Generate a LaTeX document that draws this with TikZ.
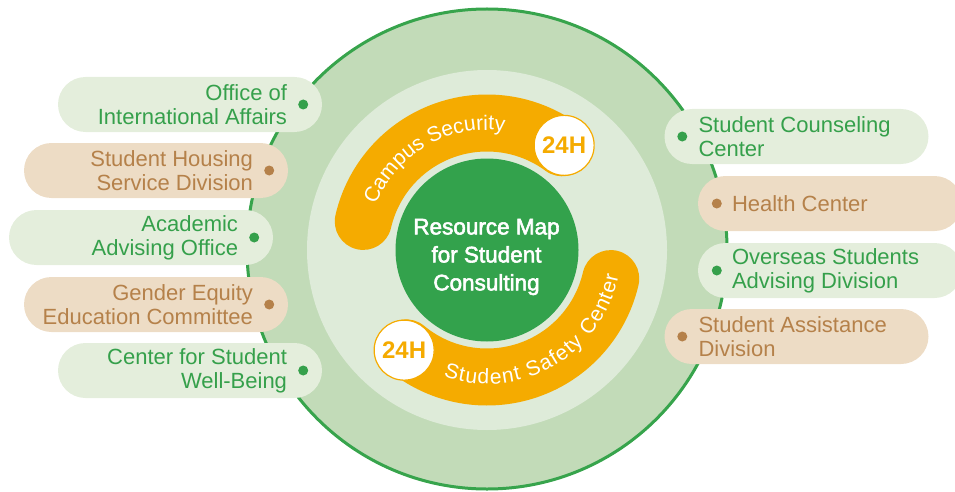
\documentclass[tikz,border=0pt]{standalone}
\usepackage{fontspec}
\setmainfont{Liberation Sans}
\newfontfamily\semib[FakeBold=2.5]{Liberation Sans}
\usetikzlibrary{shapes.misc,decorations.text}
\definecolor{ringout}{HTML}{C2DBB8}
\definecolor{ringline}{HTML}{37A44C}
\definecolor{ringin}{HTML}{DEEBD9}
\definecolor{core}{HTML}{33A24C}
\definecolor{band}{HTML}{F5AB00}
\definecolor{pillgreen}{HTML}{E4EEDC}
\definecolor{pillbeige}{HTML}{EDDCC5}
\definecolor{txtgreen}{HTML}{35A04B}
\definecolor{txtbrown}{HTML}{B5814A}
\newcommand{\arcfont}{\fontsize{21}{21}\selectfont}
\begin{document}
\begin{tikzpicture}[x=1pt,y=1pt,
  pillg/.style={rounded rectangle, fill=pillgreen, minimum width=264pt, minimum height=55pt, inner sep=0pt},
  pillb/.style={rounded rectangle, fill=pillbeige, minimum width=264pt, minimum height=55pt, inner sep=0pt},
  dotg/.style={circle, fill=txtgreen, minimum size=10pt, inner sep=0pt},
  dotb/.style={circle, fill=txtbrown, minimum size=10pt, inner sep=0pt},
  lblg/.style={text=txtgreen, font=\fontsize{22}{24}\selectfont, inner sep=0pt},
  lblb/.style={text=txtbrown, font=\fontsize{22}{24}\selectfont, inner sep=0pt},
  orangearc/.style={draw=band, line width=57pt, line cap=round},
  badge/.style={circle, fill=white, draw=band, line width=1.2pt, minimum size=60pt, inner sep=0pt, text=band, font=\bfseries\fontsize{24}{24}\selectfont}
]
\useasboundingbox (0,0) rectangle (955,491);
\coordinate (C) at (487,241);
% rings
\fill[ringout] (487,242) circle[radius=241];
\draw[ringline, line width=3pt] (487,242) circle[radius=240];
\fill[ringin] (C) circle[radius=180];
% orange arcs
\draw[orangearc] ([shift={(167:127)}]C) arc[start angle=167, end angle=53.6, radius=127];
\draw[orangearc] ([shift={(230.4:127)}]C) arc[start angle=230.4, end angle=347, radius=127];
% arc texts
\path[decorate, decoration={text along path, text={|\arcfont|Campus Security}, text align={fit to path}, text color=white}]
  ([shift={(158:120)}]C) arc[start angle=158, end angle=82, radius=120];
\path[decorate, decoration={text along path, text={|\arcfont|Student Safety Center}, text align={fit to path}, text color=white}]
  ([shift={(251:134)}]C) arc[start angle=251, end angle=349, radius=134];
% badges
\node[badge] (b1) at ([shift={(53.6:130)}]C) {24H};
\node[badge] (b2) at ([shift={(230.4:130)}]C) {24H};
% core
\node[circle, fill=core, minimum size=183pt, inner sep=0pt] (core) at (C) {};
\node[text=white, align=center, font=\semib\fontsize{22.5}{28}\selectfont] (title) at (486.5,234) {Resource Map\\for Student\\Consulting};
% left pills
\node[pillg] (L1) at (190,386.5) {};
\node[dotg] (L1d) at ([xshift=-19pt]L1.east) {};
\node[lblg, align=right, anchor=east] (L1t) at ([xshift=-35pt]L1.east) {Office of\\International Affairs};
\node[pillb] (L2) at (156,320.5) {};
\node[dotb] (L2d) at ([xshift=-19pt]L2.east) {};
\node[lblb, align=right, anchor=east] (L2t) at ([xshift=-35pt]L2.east) {Student Housing\\Service Division};
\node[pillg] (L3) at (141,253.5) {};
\node[dotg] (L3d) at ([xshift=-19pt]L3.east) {};
\node[lblg, align=right, anchor=east] (L3t) at ([xshift=-35pt]L3.east) {Academic\\Advising Office};
\node[pillb] (L4) at (156,186.5) {};
\node[dotb] (L4d) at ([xshift=-19pt]L4.east) {};
\node[lblb, align=right, anchor=east] (L4t) at ([xshift=-35pt]L4.east) {Gender Equity\\Education Committee};
\node[pillg] (L5) at (190,120.5) {};
\node[dotg] (L5d) at ([xshift=-19pt]L5.east) {};
\node[lblg, align=right, anchor=east] (L5t) at ([xshift=-35pt]L5.east) {Center for Student\\Well-Being};
% right pills
\node[pillg] (R1) at (796.5,354.5) {};
\node[dotg] (R1d) at ([xshift=18pt]R1.west) {};
\node[lblg, align=left, anchor=west] (R1t) at ([xshift=34pt]R1.west) {Student Counseling\\Center};
\node[pillb] (R2) at (830,287.5) {};
\node[dotb] (R2d) at ([xshift=19pt]R2.west) {};
\node[lblb, align=left, anchor=west] (R2t) at ([xshift=34pt]R2.west) {Health Center};
\node[pillg] (R3) at (830,220.5) {};
\node[dotg] (R3d) at ([xshift=19pt]R3.west) {};
\node[lblg, align=left, anchor=west] (R3t) at ([xshift=34pt]R3.west) {Overseas Students\\Advising Division};
\node[pillb] (R4) at (796.5,154.5) {};
\node[dotb] (R4d) at ([xshift=18pt]R4.west) {};
\node[lblb, align=left, anchor=west] (R4t) at ([xshift=34pt]R4.west) {Student Assistance\\Division};
\end{tikzpicture}
\end{document}
